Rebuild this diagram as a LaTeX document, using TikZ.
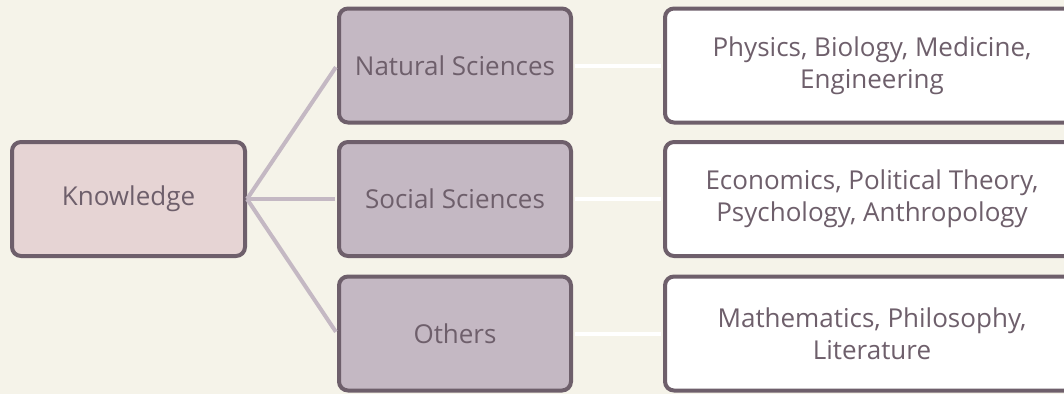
\documentclass[tikz,border=0pt]{standalone}
\usepackage{fontspec}
\setmainfont{Open Sans}
\usetikzlibrary{positioning}

\definecolor{bgcream}{HTML}{F5F3E9}
\definecolor{boxedge}{HTML}{6E5F6B}
\definecolor{rootfill}{HTML}{E6D4D4}
\definecolor{branchfill}{HTML}{C4B8C3}

\begin{document}
\begin{tikzpicture}[x=1pt,y=-1pt]

\tikzset{
  % common look of every box
  mapbox/.style={draw=boxedge, line width=4pt, rounded corners=9pt,
    text=boxedge, font=\fontsize{26}{32}\selectfont, align=center,
    minimum height=114pt, inner sep=0pt},
  rootbox/.style={mapbox, fill=rootfill, minimum width=233pt},
  branchbox/.style={mapbox, fill=branchfill, minimum width=232pt},
  leafbox/.style={mapbox, fill=white, minimum width=414pt},
  % connectors
  stem/.style={draw=branchfill, line width=4pt, shorten >=2pt},
  twig/.style={draw=white, line width=4pt, shorten <=2pt, shorten >=2pt},
}

\useasboundingbox (0,0) rectangle (1064,394);
\clip (0,0) rectangle (1064,394);
\fill[bgcream] (0,0) rectangle (1064,394);

\node[rootbox] (know) at (128.5,199) {Knowledge};

\node[branchbox] (natural) at (455,65.5) {Natural Sciences};
\node[branchbox] (social) at (455,199) {Social Sciences};
\node[branchbox] (others) at (455,333.5) {Others};

% leaf boxes run past the right edge
\node[leafbox] (natleaf) at (872,65.5) {Physics, Biology, Medicine,\\Engineering};
\node[leafbox] (socleaf) at (872,199) {Economics, Political Theory,\\Psychology, Anthropology};
\node[leafbox] (othleaf) at (872,333.5) {Mathematics, Philosophy,\\Literature};

\draw[stem] (know.east) -- (natural.west);
\draw[stem] (know.east) -- (social.west);
\draw[stem] (know.east) -- (others.west);

\draw[twig] (natural.east) -- (natleaf.west);
\draw[twig] (social.east) -- (socleaf.west);
\draw[twig] (others.east) -- (othleaf.west);

\end{tikzpicture}
\end{document}
